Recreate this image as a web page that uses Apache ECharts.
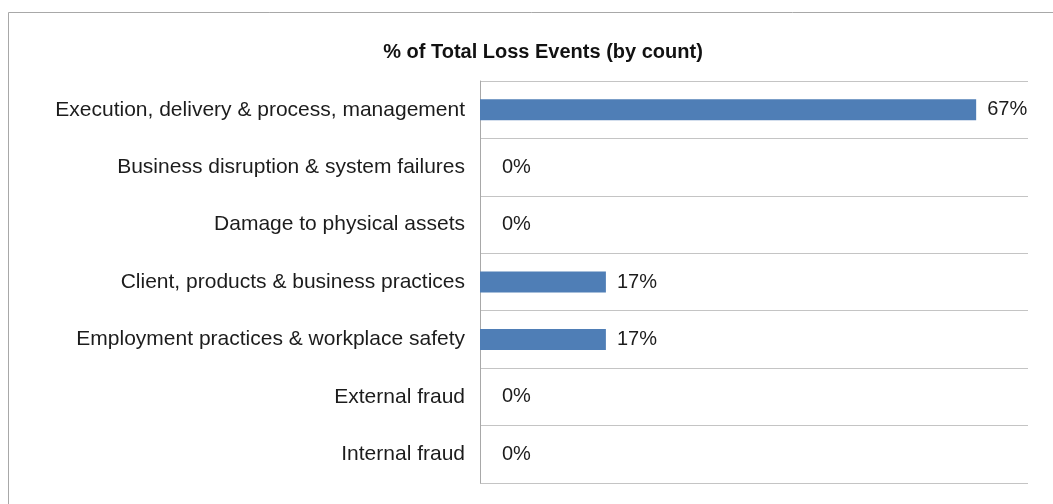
<!DOCTYPE html>
<html>
<head>
<meta charset="utf-8">
<script src="https://cdn.jsdelivr.net/npm/echarts@6/dist/echarts.min.js"></script>
<style>
  html, body { margin: 0; padding: 0; background: #fff; }
  #chart { width: 1053px; height: 504px; }
</style>
</head>
<body>
<div id="chart"></div>
<script>
  var categories = [
    'Execution, delivery & process, management',
    'Business disruption & system failures',
    'Damage to physical assets',
    'Client, products & business practices',
    'Employment practices & workplace safety',
    'External fraud',
    'Internal fraud'
  ]
  var values = [67, 0, 0, 17, 17, 0, 0]   // % of total loss events

  var fontName = '"Liberation Sans", Helvetica, Arial, sans-serif'

  var barData = values.map(function (v) {
    return {
      value: v,
      label: { distance: v === 0 ? 22 : 11 }
    }
  })

  var myChart = echarts.init(document.getElementById('chart'))
  var option = {
    backgroundColor: '#fff',
    animation: false,
    title: {
      text: '% of Total Loss Events (by count)',
      left: 538,
      textAlign: 'center',
      top: 37,
      textStyle: {
        fontFamily: fontName,
        fontSize: 20,
        fontWeight: 'bold',
        color: '#111'
      }
    },
    graphic: [{
      type: 'rect',
      shape: { x: 8.5, y: 12.5, width: 1100, height: 600 },
      style: { fill: 'none', stroke: '#a8a8a8', lineWidth: 1 },
      silent: true
    }],
    grid: {
      left: 480,
      right: 25,
      top: 81,
      bottom: 21
    },
    xAxis: {
      type: 'value',
      min: 0,
      max: 74,
      show: false
    },
    yAxis: {
      type: 'category',
      inverse: true,
      data: categories,
      axisLine: { show: true, lineStyle: { color: '#a8a8a8', width: 1 } },
      axisTick: { show: false },
      splitLine: { show: true, lineStyle: { color: '#c4c4c4', width: 1 } },
      axisLabel: {
        margin: 15,
        fontFamily: fontName,
        fontSize: 21,
        color: '#1c1c1c'
      }
    },
    series: [{
      type: 'bar',
      data: barData,
      barWidth: 21,
      itemStyle: { color: '#4f7eb6' },
      label: {
        show: true,
        position: 'right',
        formatter: '{c}%',
        fontFamily: fontName,
        fontSize: 20,
        color: '#1c1c1c'
      }
    }]
  }
  myChart.setOption(option)
  window.addEventListener('resize', function () {
    myChart.resize()
  })
</script>
</body>
</html>
